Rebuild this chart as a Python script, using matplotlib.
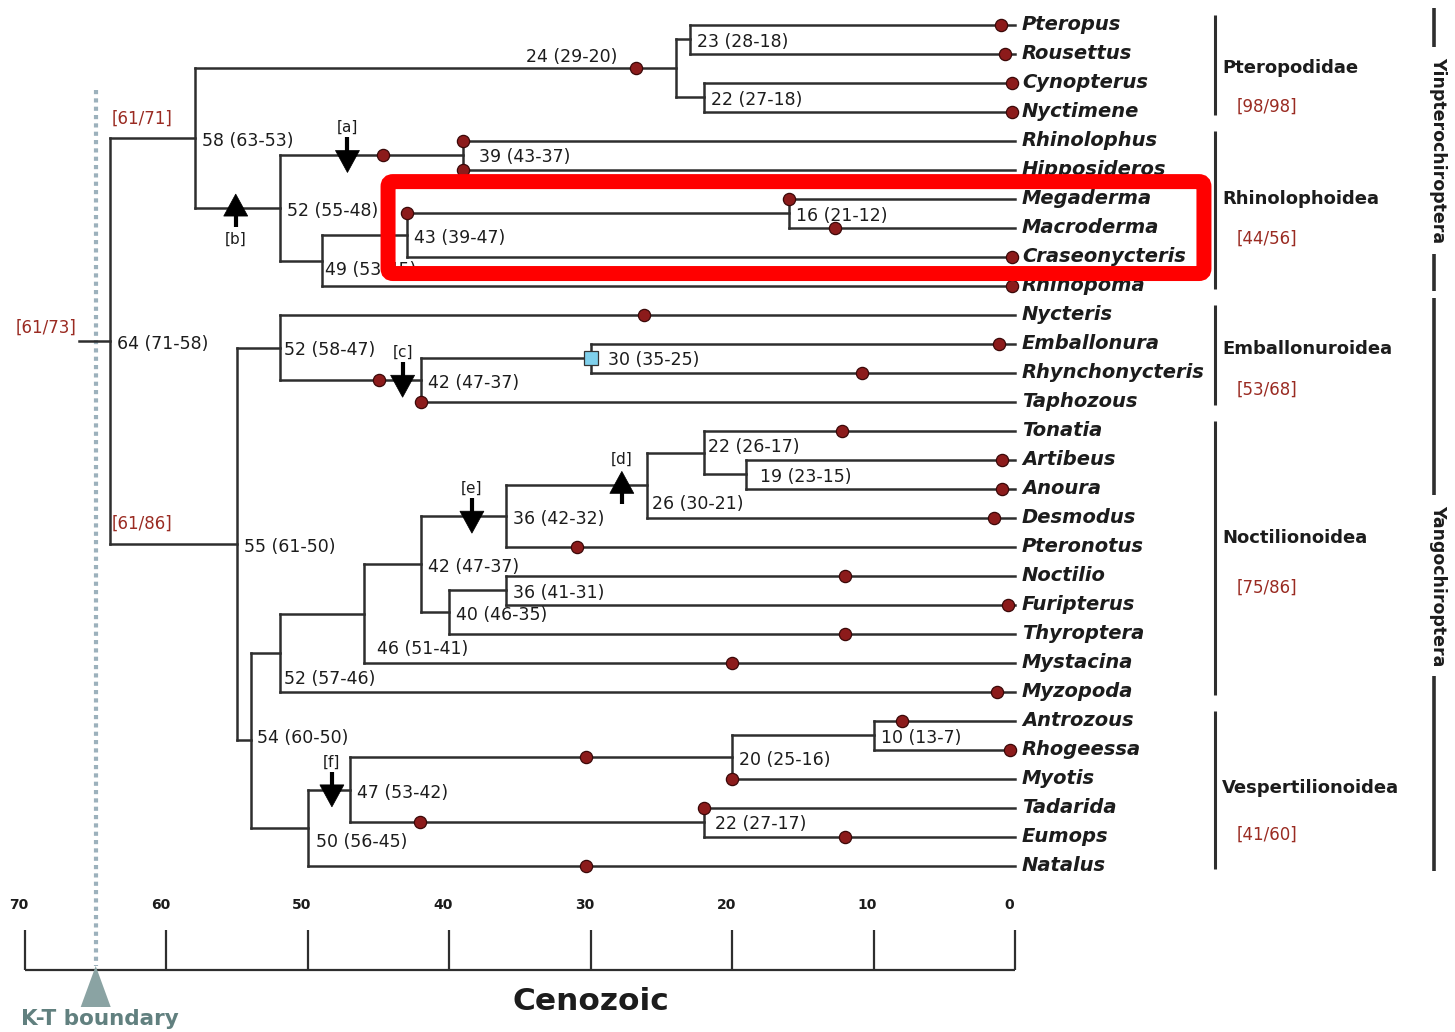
import matplotlib
matplotlib.use("Agg")
import matplotlib.pyplot as plt
from matplotlib.collections import LineCollection
from matplotlib.patches import FancyBboxPatch, Polygon
from matplotlib.transforms import IdentityTransform

plt.rcParams["font.family"] = ["DejaVu Sans"]

# ---------------------------------------------------------------- data
taxa = ["Pteropus", "Rousettus", "Cynopterus", "Nyctimene",
        "Rhinolophus", "Hipposideros", "Megaderma", "Macroderma",
        "Craseonycteris", "Rhinopoma",
        "Nycteris", "Emballonura", "Rhynchonycteris", "Taphozous",
        "Tonatia", "Artibeus", "Anoura", "Desmodus", "Pteronotus",
        "Noctilio", "Furipterus", "Thyroptera", "Mystacina", "Myzopoda",
        "Antrozous", "Rhogeessa", "Myotis", "Tadarida", "Eumops", "Natalus"]

# internal nodes: divergence age (Ma) and interval as printed
node_ids = ["ROOT", "YIN", "PTE", "P1", "P2", "RHI", "R1", "R2", "R3", "R4",
            "YANG", "EMB", "E2", "E3", "Y2", "NOC", "N2", "N3", "N4", "N5",
            "N6", "N6b", "N7", "N8", "VES", "V2", "V3", "V4", "V5"]
node_ages = [64, 58, 24, 23, 22, 52, 39, 49, 43, 16,
             55, 52, 42, 30, 54, 52, 46, 42, 36, 26,
             22, 19, 40, 36, 50, 47, 20, 10, 22]
node_ci = ["71-58", "63-53", "29-20", "28-18", "27-18", "55-48", "43-37",
           "53-45", "39-47", "21-12",
           "61-50", "58-47", "47-37", "35-25", "60-50", "57-46", "51-41",
           "47-37", "42-32", "30-21", "26-17", "23-15", "46-35", "41-31",
           "56-45", "53-42", "25-16", "13-7", "27-17"]
node_children = [["YIN", "YANG"], ["PTE", "RHI"], ["P1", "P2"],
                 ["Pteropus", "Rousettus"], ["Cynopterus", "Nyctimene"],
                 ["R1", "R2"], ["Rhinolophus", "Hipposideros"],
                 ["R3", "Rhinopoma"], ["R4", "Craseonycteris"],
                 ["Megaderma", "Macroderma"],
                 ["EMB", "Y2"], ["Nycteris", "E2"], ["E3", "Taphozous"],
                 ["Emballonura", "Rhynchonycteris"], ["NOC", "VES"],
                 ["N2", "Myzopoda"], ["N3", "Mystacina"], ["N4", "N7"],
                 ["N5", "Pteronotus"], ["N6", "Desmodus"],
                 ["Tonatia", "N6b"], ["Artibeus", "Anoura"],
                 ["N8", "Thyroptera"], ["Noctilio", "Furipterus"],
                 ["V2", "Natalus"], ["V3", "V5"], ["V4", "Myotis"],
                 ["Antrozous", "Rhogeessa"], ["Tadarida", "Eumops"]]
ROOT_STEM_AGE = 66.2

# fossil calibration points: branch (named by its descendant) and age (Ma)
dot_branches = ["Pteropus", "Rousettus", "Cynopterus", "Nyctimene", "PTE",
                "R1", "Rhinolophus", "Hipposideros", "R4", "Megaderma",
                "Macroderma", "Craseonycteris", "Rhinopoma",
                "Nycteris", "Emballonura", "Rhynchonycteris", "E2", "Taphozous",
                "Tonatia", "Artibeus", "Anoura", "Desmodus", "Pteronotus",
                "Noctilio", "Furipterus", "Thyroptera", "Mystacina", "Myzopoda",
                "Antrozous", "Rhogeessa", "V3", "Myotis", "Tadarida", "V5",
                "Eumops", "Natalus"]
dot_ages = [1.0, 0.7, 0.2, 0.2, 26.8,
            44.7, 39, 39, 43, 16,
            12.7, 0.2, 0.2,
            26.2, 1.1, 10.8, 45.0, 42,
            12.2, 0.9, 0.9, 1.5, 31.0,
            12.0, 0.5, 12.0, 20.0, 1.3,
            8.0, 0.35, 30.3, 20, 22, 42.1,
            12.0, 30.3]
square_nodes = ["E3"]

# character-change arrows
arrow_labels = ["[a]", "[b]", "[c]", "[d]", "[e]", "[f]"]
arrow_branches = ["R1", "RHI", "E2", "N5", "N4", "V2"]
arrow_ages = [47.2, 55.1, 43.3, 27.8, 38.4, 48.3]
arrow_dirs = ["down", "up", "down", "up", "down", "down"]
arrow_label_side = ["above", "below", "above", "above", "above", "above"]

# bootstrap support on the deep branches
support_text = ["[61/71]", "[61/86]", "[61/73]"]
support_branch = ["YIN", "YANG", "ROOT"]

# superfamilies and suborders
group_names = ["Pteropodidae", "Rhinolophoidea", "Emballonuroidea",
               "Noctilionoidea", "Vespertilionoidea"]
group_support = ["[98/98]", "[44/56]", "[53/68]", "[75/86]", "[41/60]"]
group_first = ["Pteropus", "Rhinolophus", "Nycteris", "Tonatia", "Antrozous"]
group_last = ["Nyctimene", "Rhinopoma", "Taphozous", "Myzopoda", "Natalus"]
suborder_names = ["Yinpterochiroptera", "Yangochiroptera"]
suborder_first = ["Pteropus", "Nycteris"]
suborder_last = ["Rhinopoma", "Natalus"]

time_ticks = [70, 60, 50, 40, 30, 20, 10, 0]
KT_AGE = 65

# ---------------------------------------------------------------- style
LINE = "#2e2e2e"
TEXT = "#1c1c1c"
RED = "#9a2b22"
DOT = "#8c1b1b"
DOT_EDGE = "#3a0808"
SQUARE = "#7fd0ec"
KT_DOTS = "#9cb1bc"
KT_TRI = "#8aa3a3"
KT_TEXT = "#61807f"

# node label offsets in pixels (dx, dy, ha)
label_offsets = {"PTE": (-58, -11, "right"), "R1": (16, 2, "left"),
                 "E3": (17, 2, "left"), "NOC": (4, 26, "left"),
                 "N2": (13, 35, "left"), "N5": (5, 19, "left"),
                 "N6": (4, -6, "left"), "N6b": (14, 3, "left"),
                 "VES": (8, 14, "left"), "R2": (3, 9, "left"),
                 "V5": (11, 2, "left"), "EMB": (4, 2, "left"),
                 "Y2": (6, -2, "left")}
group_label_dy = [0, -14, -9, -23, -5]
group_sup_dy = [38, 25, 31, 26, 41]

# ---------------------------------------------------------------- canvas
W, H, DPI = 1455, 1032, 100
X0 = 1015.0                 # pixel column of the present day
PX_PER_MA = 990.0 / 70
Y0, ROW_H = 25.0, 29.0      # first tip row and row spacing (pixels)

fig = plt.figure(figsize=(W / DPI, H / DPI), dpi=DPI)
fig.patch.set_facecolor("white")
ax = fig.add_axes([0, 0, 1, 1])
ax.set_xlim(X0 / PX_PER_MA, (X0 - W) / PX_PER_MA)
ax.set_ylim((H - Y0) / ROW_H, -Y0 / ROW_H)
ax.axis("off")


def age_px(x):
    return (X0 - x) / PX_PER_MA


def row_px(y):
    return (y - Y0) / ROW_H


def ddx(px):
    return -px / PX_PER_MA


def ddy(px):
    return px / ROW_H


# ---------------------------------------------------------------- tree layout
age = dict(zip(node_ids, node_ages))
kids = dict(zip(node_ids, node_children))
tip_row = {t: i for i, t in enumerate(taxa)}
ypos = {}


def place(n):
    if n in tip_row:
        ypos[n] = tip_row[n]
    else:
        ys = [place(c) for c in kids[n]]
        ypos[n] = (ys[0] + ys[-1]) / 2
    return ypos[n]


place("ROOT")


def end_age(n):
    return age.get(n, 0.0)


segs = []
for n in node_ids:
    a = age[n]
    cys = [ypos[c] for c in kids[n]]
    segs.append([(a, min(cys)), (a, max(cys))])
    for c in kids[n]:
        segs.append([(a, ypos[c]), (end_age(c), ypos[c])])
segs.append([(ROOT_STEM_AGE, ypos["ROOT"]), (age["ROOT"], ypos["ROOT"])])
ax.add_collection(LineCollection(segs, colors=LINE, linewidths=1.8,
                                 capstyle="projecting", zorder=2))

# node age labels
for n, a, ci in zip(node_ids, node_ages, node_ci):
    ox, oy, ha = label_offsets.get(n, (7, 3, "left"))
    ax.text(a + ddx(ox), ypos[n] + ddy(oy), f"{a} ({ci})", ha=ha,
            va="center", fontsize=12.5, color=TEXT, zorder=6)

# tip names
for t, r in tip_row.items():
    ax.text(age_px(1022), r, t, ha="left", va="center", fontsize=14,
            fontweight="bold", fontstyle="italic", color=TEXT, zorder=6)

# calibration dots and the square marker
ax.plot(dot_ages, [ypos[b] for b in dot_branches], ls="none", marker="o",
        ms=8.8, mfc=DOT, mec=DOT_EDGE, mew=0.9, zorder=5)
ax.plot([age[n] for n in square_nodes], [ypos[n] for n in square_nodes],
        ls="none", marker="s", ms=10, mfc=SQUARE, mec="#333333", mew=0.9,
        zorder=5)

# arrows
for lab, br, a, d, side in zip(arrow_labels, arrow_branches, arrow_ages,
                               arrow_dirs, arrow_label_side):
    y = ypos[br]
    hw = ddx(12)
    if d == "down":
        stem = (y + ddy(-18), y + ddy(-4))
        base, tip = y + ddy(-5), y + ddy(17)
    else:
        stem = (y + ddy(19), y + ddy(6))
        base, tip = y + ddy(8), y + ddy(-14)
    ly = y + (ddy(31) if side == "below" else (ddy(-28) if d == "down" else ddy(-26)))
    ax.plot([a, a], stem, color="black", lw=3, solid_capstyle="butt", zorder=7)
    ax.add_patch(Polygon([(a - hw, base), (a + hw, base), (a, tip)],
                         closed=True, fc="black", ec="black", lw=0.5, zorder=7))
    ax.text(a, ly, lab, ha="center", va="center", fontsize=11, color=TEXT,
            zorder=7)

# bootstrap support on deep branches
for s, b in zip(support_text, support_branch):
    if b == "ROOT":
        ax.text(ROOT_STEM_AGE + ddx(-2), ypos[b] + ddy(-13), s, ha="right",
                va="center", fontsize=12, color=RED, zorder=6)
    else:
        ax.text(age["ROOT"] + ddx(2), ypos[b] + ddy(-20), s, ha="left",
                va="center", fontsize=12, color=RED, zorder=6)

# superfamily brackets
bx = age_px(1215)
for name, sup, f, l, ldy, sdy in zip(group_names, group_support, group_first,
                                     group_last, group_label_dy, group_sup_dy):
    r0, r1 = tip_row[f], tip_row[l]
    ax.vlines(bx, r0 + ddy(-10), r1 + ddy(3), color=LINE, lw=2.2)
    mid = (r0 + r1) / 2
    ax.text(age_px(1222), mid + ddy(ldy), name, ha="left", va="center",
            fontsize=13, fontweight="bold", color=TEXT)
    ax.text(age_px(1237), mid + ddy(sdy), sup, ha="left", va="center",
            fontsize=12, color=RED)

# suborder bars with rotated names
fig.canvas.draw()
renderer = fig.canvas.get_renderer()
sx = age_px(1434)
for name, f, l in zip(suborder_names, suborder_first, suborder_last):
    r0, r1 = tip_row[f], tip_row[l]
    mid = (r0 + r1) / 2 + ddy(-5)
    t = ax.text(age_px(1438), mid, name, rotation=270, ha="center",
                va="center", fontsize=12.5, fontweight="bold", color=TEXT)
    half = t.get_window_extent(renderer).height / 2 + 10
    ax.vlines(sx, r0 + ddy(-17), mid - ddy(half), color=LINE, lw=2.6)
    ax.vlines(sx, mid + ddy(half), r1 + ddy(5), color=LINE, lw=2.6)

# time axis
base_row = row_px(970)
ax.hlines(base_row, time_ticks[0], time_ticks[-1], color=LINE, lw=1.6)
ax.vlines(time_ticks, row_px(930), base_row, color=LINE, lw=1.6)
for tk in time_ticks:
    ax.text(tk + ddx(-6), row_px(905), str(tk), ha="center", va="center",
            fontsize=10, fontweight="bold", color=TEXT)
ax.text(30, row_px(1002), "Cenozoic", ha="center", va="center",
        fontsize=22.5, fontweight="bold", color=TEXT)

# K-T boundary
ax.vlines(KT_AGE, row_px(90), row_px(966), colors=KT_DOTS, lw=3,
          linestyles=(0, (1, 1)), zorder=1)
ax.add_patch(Polygon([(KT_AGE, row_px(966)),
                      (KT_AGE + ddx(-15), row_px(1007)),
                      (KT_AGE + ddx(15), row_px(1007))],
                     closed=True, fc=KT_TRI, ec="none", zorder=3))
ax.text(KT_AGE + ddx(4), row_px(1019), "K-T boundary", ha="center",
        va="center", fontsize=15.5, fontweight="bold", color=KT_TEXT)

# highlight frame around the Megaderma-Craseonycteris clade
HL_LEFT_AGE, HL_RIGHT_AGE = 44.33, -13.36
HL_TOP_ROW, HL_BOTTOM_ROW = 5.40, 8.57
(px0, py0) = ax.transData.transform((HL_LEFT_AGE, HL_BOTTOM_ROW))
(px1, py1) = ax.transData.transform((HL_RIGHT_AGE, HL_TOP_ROW))
frame = FancyBboxPatch((px0, py0), px1 - px0, py1 - py0,
                       boxstyle="round,pad=0,rounding_size=5",
                       transform=IdentityTransform(), fill=False,
                       ec="#ff0000", lw=10.8, zorder=20)
fig.add_artist(frame)

fig.savefig("out.png", dpi=DPI, facecolor="white")
